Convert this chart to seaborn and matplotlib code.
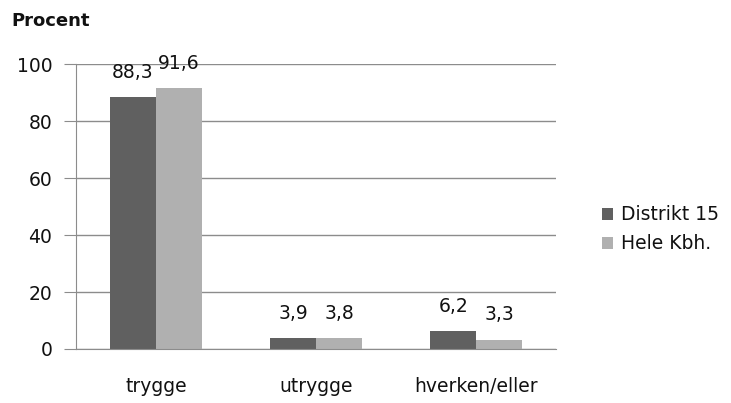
import seaborn as sns
import matplotlib.pyplot as plt
import pandas as pd

# data
categories = ['trygge', 'utrygge', 'hverken/eller']
distrikt_15 = [88.3, 3.9, 6.2]
hele_kbh = [91.6, 3.8, 3.3]
series_names = ['Distrikt 15', 'Hele Kbh.']
colors = ['#606060', '#b0b0b0']

df = pd.DataFrame({
    'kategori': categories * 2,
    'procent': distrikt_15 + hele_kbh,
    'serie': [series_names[0]] * 3 + [series_names[1]] * 3,
})

sns.set_style('white')
plt.rcParams['font.family'] = ['DejaVu Sans']
plt.rcParams['text.color'] = '#111111'
plt.rcParams['xtick.color'] = '#111111'
plt.rcParams['ytick.color'] = '#111111'

fig = plt.figure(figsize=(7.31, 4.03), dpi=100)
ax = fig.add_axes([0.104, 0.134, 0.657, 0.707])

sns.barplot(data=df, x='kategori', y='procent', hue='serie', palette=colors,
            width=0.575, saturation=1, linewidth=0, ax=ax, legend=True)

for container in ax.containers:
    labels = [f'{v:.1f}'.replace('.', ',') for v in container.datavalues]
    ax.bar_label(container, labels=labels, padding=11, fontsize=13.5, color='#111111')

ax.set_ylim(0, 100)
ax.set_yticks([0, 20, 40, 60, 80, 100])
ax.set_xlim(-0.5, 2.5)
ax.yaxis.grid(True, color='#8c8c8c', linewidth=1)
ax.set_axisbelow(True)
for side in ['top', 'right']:
    ax.spines[side].set_visible(False)
ax.spines['left'].set_color('#8c8c8c')
ax.spines['bottom'].set_color('#8c8c8c')
ax.tick_params(axis='y', length=9, color='#8c8c8c', labelcolor='#111111',
               labelsize=13.5, pad=8, left=True)
ax.tick_params(axis='x', length=0, labelsize=13.5, pad=20)
ax.set_xlabel('')
ax.set_ylabel('')

fig.text(0.015, 0.935, 'Procent', fontsize=13, fontweight='bold')

leg = ax.legend(loc='center left', bbox_to_anchor=(1.06, 0.42), frameon=False,
                fontsize=13.5, handlelength=0.6, handleheight=0.6, handletextpad=0.4,
                labelspacing=0.55)

fig.savefig('out.png', dpi=100)
